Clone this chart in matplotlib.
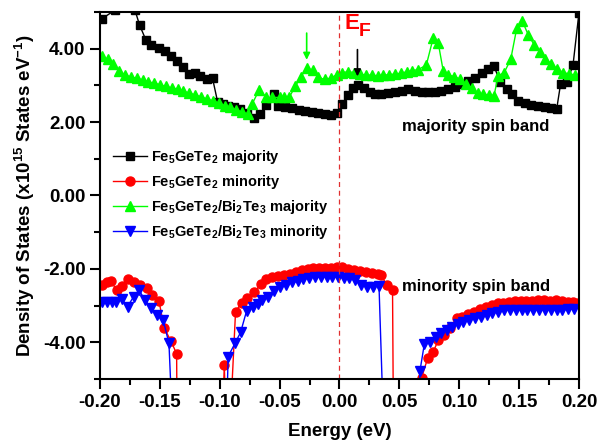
import matplotlib
matplotlib.use('Agg')
import matplotlib.pyplot as plt
from matplotlib.ticker import MultipleLocator, FormatStrFormatter

plt.rcParams['font.family'] = ['Liberation Sans', 'DejaVu Sans']
plt.rcParams['font.weight'] = 'bold'
plt.rcParams['mathtext.fontset'] = 'custom'
plt.rcParams['mathtext.rm'] = 'Liberation Sans:bold'
plt.rcParams['mathtext.it'] = 'Liberation Sans:bold'
plt.rcParams['mathtext.bf'] = 'Liberation Sans:bold'
plt.rcParams['mathtext.default'] = 'rm'

# Fe5GeTe2 majority (black squares)
maj_x = [-0.1986, -0.1875, -0.1708, -0.167, -0.1616, -0.157, -0.151, -0.146, -0.141, -0.136,
         -0.131, -0.126, -0.121, -0.1165, -0.111, -0.106, -0.1017, -0.097, -0.093, -0.088,
         -0.083, -0.0776, -0.071, -0.0664, -0.061, -0.055, -0.051, -0.0455, -0.040, -0.034,
         -0.029, -0.0233, -0.0177, -0.012, -0.007, -0.0024, 0.0023, 0.0068, 0.0115, 0.0157,
         0.0207, 0.0255, 0.030, 0.035, 0.0407, 0.0463, 0.052, 0.0575, 0.063, 0.0686,
         0.074, 0.0797, 0.085, 0.091, 0.0965, 0.102, 0.1076, 0.113, 0.1187, 0.1237,
         0.129, 0.134, 0.1396, 0.144, 0.149, 0.155, 0.160, 0.166, 0.1716, 0.1766,
         0.1814, 0.1846, 0.190, 0.195, 0.2]
maj_y = [4.81, 5.05, 5.05, 4.65, 4.23, 4.10, 4.03, 3.94, 3.80, 3.67,
         3.49, 3.31, 3.35, 3.26, 3.17, 3.19, 2.54, 2.49, 2.45, 2.40,
         2.36, 2.26, 2.10, 2.22, 2.46, 2.76, 2.45, 2.40, 2.37, 2.34,
         2.31, 2.28, 2.25, 2.22, 2.19, 2.26, 2.49, 2.74, 2.94, 3.01,
         2.92, 2.83, 2.76, 2.76, 2.79, 2.83, 2.85, 2.90, 2.85, 2.83,
         2.83, 2.83, 2.85, 2.90, 2.96, 3.03, 3.12, 3.21, 3.35, 3.44,
         3.53, 3.10, 2.90, 2.76, 2.58, 2.52, 2.47, 2.43, 2.40, 2.37,
         2.36, 3.03, 3.10, 3.55, 4.98]

# Fe5GeTe2 minority (red circles); -7 marks values far below the axis
min_x = [-0.1986, -0.194, -0.1908, -0.186, -0.1814, -0.1764, -0.1714, -0.1666, -0.161, -0.1564,
         -0.1507, -0.1464, -0.1407, -0.136, -0.1355,
         -0.0985, -0.0962, -0.094, -0.0925, -0.0868, -0.0818, -0.077, -0.0711, -0.0656, -0.061,
         -0.056, -0.051, -0.046, -0.0413, -0.0366, -0.0316, -0.0266, -0.022, -0.0172, -0.0121,
         -0.007, -0.0024, 0.0023, 0.0073, 0.0123, 0.017, 0.0218, 0.0268, 0.0318, 0.0346,
         0.0393, 0.0443, 0.0452,
         0.067, 0.0686, 0.0736, 0.0783, 0.0825, 0.0875, 0.0923, 0.0978, 0.1025, 0.1075,
         0.1126, 0.1173, 0.122, 0.127, 0.132, 0.1367, 0.1415, 0.1466, 0.1516, 0.156,
         0.161, 0.166, 0.171, 0.1758, 0.1805, 0.1855, 0.1905, 0.1952, 0.1994]
min_y = [-2.43, -2.37, -2.34, -2.58, -2.46, -2.28, -2.37, -2.43, -2.52, -2.70,
         -2.88, -3.61, -3.97, -4.31, -7.0,
         -7.0, -4.62, -7.0, -7.0, -3.17, -2.92, -2.79, -2.63, -2.42, -2.27,
         -2.22, -2.19, -2.16, -2.13, -2.08, -2.04, -1.99, -1.97, -1.97, -1.97,
         -1.97, -1.95, -1.95, -2.01, -2.04, -2.07, -2.08, -2.10, -2.13, -2.16,
         -2.43, -2.57, -7.0,
         -7.0, -4.96, -4.44, -4.26, -3.94, -3.79, -3.61, -3.35, -3.31, -3.24,
         -3.17, -3.10, -3.03, -2.99, -2.94, -2.92, -2.90, -2.88, -2.88, -2.88,
         -2.88, -2.86, -2.86, -2.88, -2.86, -2.88, -2.90, -2.90, -2.92]

# Fe5GeTe2/Bi2Te3 majority (green up-triangles)
het_maj_x = [-0.1986, -0.1936, -0.189, -0.184, -0.179, -0.174, -0.169, -0.1644, -0.16, -0.155,
             -0.150, -0.145, -0.140, -0.135, -0.1305, -0.1254, -0.1207, -0.1157, -0.111, -0.106,
             -0.101, -0.096, -0.0914, -0.0868, -0.0818, -0.0767, -0.0728, -0.067, -0.061, -0.056,
             -0.050, -0.0464, -0.042, -0.037, -0.0325, -0.0274, -0.022, -0.0177, -0.0125, -0.0073,
             -0.0022, 0.0023, 0.0073, 0.0123, 0.017, 0.0218, 0.0268, 0.0318, 0.0365, 0.0413,
             0.0463, 0.0513, 0.056, 0.0607, 0.0657, 0.0725, 0.0783, 0.0825, 0.0866, 0.0908,
             0.0958, 0.1006, 0.1053, 0.1103, 0.1153, 0.12, 0.1248, 0.129, 0.1326, 0.1376,
             0.143, 0.148, 0.1526, 0.1577, 0.1627, 0.1674, 0.172, 0.177, 0.182, 0.187,
             0.1916, 0.1967]
het_maj_y = [3.80, 3.71, 3.58, 3.40, 3.28, 3.23, 3.19, 3.15, 3.10, 3.06,
             3.02, 2.97, 2.93, 2.90, 2.84, 2.79, 2.74, 2.69, 2.63, 2.58,
             2.52, 2.45, 2.40, 2.34, 2.28, 2.22, 2.50, 2.88, 2.67, 2.67,
             2.67, 2.67, 2.67, 2.97, 3.22, 3.47, 3.41, 3.22, 3.16, 3.20,
             3.29, 3.35, 3.37, 3.35, 3.31, 3.28, 3.28, 3.26, 3.28, 3.29,
             3.31, 3.33, 3.37, 3.40, 3.43, 3.55, 4.30, 4.15, 3.40, 3.28,
             3.24, 3.17, 3.03, 2.92, 2.79, 2.76, 2.74, 2.72, 3.26, 3.35,
             3.71, 4.55, 4.76, 4.37, 4.10, 3.90, 3.73, 3.58, 3.44, 3.35,
             3.31, 3.28]

# Fe5GeTe2/Bi2Te3 minority (blue down-triangles)
het_min_x = [-0.1986, -0.194, -0.190, -0.187, -0.182, -0.177, -0.172, -0.1674, -0.1624, -0.1574,
             -0.1527, -0.1472, -0.1424, -0.1385,
             -0.095, -0.093, -0.0873, -0.0826, -0.0776, -0.0726, -0.068, -0.0645, -0.0595, -0.0545,
             -0.0497, -0.045, -0.040, -0.035, -0.0303, -0.0255, -0.0205, -0.0155, -0.0108, -0.006,
             -0.0014, 0.0036, 0.0083, 0.013, 0.018, 0.023, 0.028, 0.033, 0.0375,
             0.066, 0.0672, 0.0708, 0.0756, 0.0803, 0.0848, 0.0894, 0.094, 0.0987, 0.1034,
             0.108, 0.113, 0.118, 0.1228, 0.1276, 0.1326, 0.1376, 0.1424, 0.147, 0.152,
             0.157, 0.162, 0.1665, 0.1716, 0.1766, 0.1814, 0.186, 0.191, 0.196]
het_min_y = [-2.90, -2.90, -2.90, -2.90, -2.81, -3.03, -2.76, -2.58, -2.85, -3.06,
             -3.26, -3.40, -4.03, -7.0,
             -7.0, -4.39, -4.03, -3.73, -3.15, -3.03, -2.97, -2.85, -2.76, -2.61,
             -2.49, -2.43, -2.37, -2.34, -2.28, -2.25, -2.22, -2.22, -2.22, -2.22,
             -2.22, -2.25, -2.26, -2.31, -2.43, -2.49, -2.49, -2.46, -7.0,
             -7.0, -4.78, -4.06, -3.99, -3.85, -3.76, -3.67, -3.58, -3.51, -3.44,
             -3.40, -3.35, -3.31, -3.26, -3.21, -3.17, -3.12, -3.12, -3.12, -3.12,
             -3.12, -3.12, -3.12, -3.12, -3.12, -3.12, -3.12, -3.10, -3.10]

labels = [r'Fe$_{5}$GeTe$_{2}$ majority',
          r'Fe$_{5}$GeTe$_{2}$ minority',
          r'Fe$_{5}$GeTe$_{2}$/Bi$_{2}$Te$_{3}$ majority',
          r'Fe$_{5}$GeTe$_{2}$/Bi$_{2}$Te$_{3}$ minority']

fig = plt.figure(figsize=(5.98, 4.43), dpi=100)
ax = fig.add_axes([0.1672, 0.1445, 0.8010, 0.8285])

ax.plot(maj_x, maj_y, color='black', marker='s', markersize=5.5, lw=1, label=labels[0])
ax.plot(min_x, min_y, color='#ff0000', marker='o', markersize=6.5, lw=1, label=labels[1])
ax.plot(het_maj_x, het_maj_y, color='#00ff00', marker='^', markersize=7.5, lw=1, label=labels[2])
ax.plot(het_min_x, het_min_y, color='#0000ff', marker='v', markersize=7.5, lw=1, label=labels[3])

ax.axvline(0, color='#e03030', linestyle='--', lw=0.9, dashes=(4, 3))

ax.set_xlim(-0.2, 0.2)
ax.set_ylim(-5, 5)
ax.xaxis.set_major_locator(MultipleLocator(0.05))
ax.xaxis.set_minor_locator(MultipleLocator(0.025))
ax.yaxis.set_major_locator(MultipleLocator(2))
ax.yaxis.set_minor_locator(MultipleLocator(1))
ax.xaxis.set_major_formatter(FormatStrFormatter('%.2f'))
ax.yaxis.set_major_formatter(FormatStrFormatter('%.2f'))
ax.tick_params(which='major', direction='out', length=7, width=1.5, labelsize=13.5)
ax.tick_params(which='minor', direction='out', length=4, width=1.5)
for s in ax.spines.values():
    s.set_linewidth(1.5)

ax.set_xlabel('Energy (eV)', fontsize=13.5, fontweight='bold', labelpad=9)
ax.set_ylabel(r'Density of States (x10$^{15}$ States eV$^{-1}$)', fontsize=13.5,
              fontweight='bold', labelpad=4)

# annotations
ax.annotate('', xy=(0.015, 3.17), xytext=(0.015, 4.05),
            arrowprops=dict(arrowstyle='-|>', color='black', lw=1.2, mutation_scale=10))
ax.annotate('', xy=(-0.0274, 3.62), xytext=(-0.0274, 4.5),
            arrowprops=dict(arrowstyle='-|>', color='#00ff00', lw=1.2, mutation_scale=10))
ax.text(0.004, 4.68, 'E', color='#ff0000', fontsize=16, fontweight='bold', va='center')
ax.text(0.0158, 4.48, 'F', color='#ff0000', fontsize=14, fontweight='bold', va='center')
ax.text(0.052, 1.88, 'majority spin band', fontsize=12, fontweight='bold', va='center')
ax.text(0.052, -2.49, 'minority spin band', fontsize=12, fontweight='bold', va='center')

ax.legend(loc='upper left', bbox_to_anchor=(0.0, 0.665), frameon=False, fontsize=10.5,
          handlelength=2.3, handletextpad=0.3, labelspacing=0.48, borderaxespad=0.5)

fig.savefig('out.png', dpi=100)
